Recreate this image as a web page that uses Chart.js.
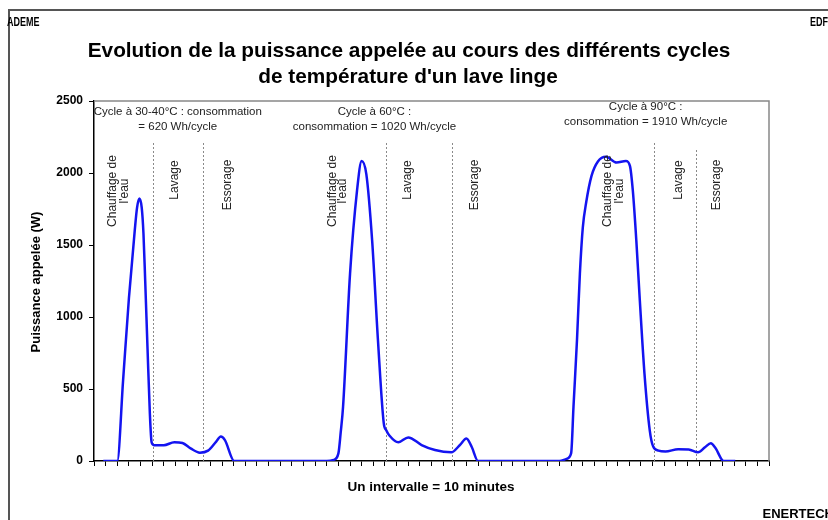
<!DOCTYPE html>
<html>
<head>
<meta charset="utf-8">
<script src="https://cdn.jsdelivr.net/npm/chart.js@4.4.1/dist/chart.umd.min.js"></script>
<style>
html,body{margin:0;padding:0;background:#fff;}
</style>
</head>
<body>
<canvas id="myChart" width="828" height="520"></canvas>
<script>
// Temps en intervalles (1 intervalle = 10 minutes)
const intervalles = [
  0.8, 2.0, 2.5, 3.0, 3.5, 3.7, 3.9, 4.1, 4.25, 4.4, 4.6, 4.8, 4.95, 5.15, 6.0, 6.9, 7.6, 8.3, 9.1, 9.8, 10.5, 10.9, 11.25, 12.05,
  20.0, 20.6, 21.0, 21.2, 21.4, 22.0, 22.6, 23.0, 23.4, 23.9, 24.4, 24.9, 25.1, 25.4, 26.15, 27.0, 28.15, 29.3, 30.7, 31.44, 32.0, 32.45, 33.0,
  40.0, 40.6, 41.0, 41.2, 41.5, 41.75, 42.0, 42.3, 42.75, 43.3, 44.0, 44.9, 45.7, 46.05, 46.3, 46.6, 46.9, 47.3, 47.75, 48.05, 48.5, 49.1, 50.2, 51.1, 51.9, 52.5, 53.0, 53.4, 54.1, 55.1
];
// Puissance appelée (W)
const puissance = [
  0, 0, 560, 1130, 1600, 1760, 1823, 1760, 1580, 1250, 780, 330, 130, 110, 110, 130, 125, 88, 58, 72, 135, 170, 145, 0,
  0, 8, 53, 200, 376, 1300, 1877, 2084, 1992, 1530, 838, 261, 215, 175, 130, 164, 111, 76, 60, 111, 157, 99, 0,
  0, 15, 55, 376, 838, 1300, 1620, 1800, 1980, 2080, 2112, 2073, 2084, 2050, 1877, 1530, 1115, 607, 215, 100, 72, 66, 82, 80, 60, 95, 123, 90, 0, 0
];
// Limites des phases (chauffage / lavage / essorage)
const separations = [5.1, 9.4, 25.1, 30.8, 48.1, 51.7];
const graduationsY = [0, 500, 1000, 1500, 2000, 2500];
const cycles = [
  ['Cycle à 30-40°C : consommation', '= 620 Wh/cycle'],
  ['Cycle à 60°C :', 'consommation = 1020 Wh/cycle'],
  ['Cycle à 90°C :', 'consommation = 1910 Wh/cycle']
];
const phases = ['Chauffage de', "l'eau", 'Lavage', 'Essorage'];

const ctx = document.getElementById('myChart');

const decor = {
  id: 'decor',
  beforeDraw(chart) {
    const c = chart.ctx;
    c.save();
    c.fillStyle = '#fff';
    c.fillRect(0, 0, chart.width, chart.height);
    // cadre extérieur
    c.strokeStyle = '#555';
    c.lineWidth = 2;
    c.beginPath();
    c.moveTo(9, 530); c.lineTo(9, 10); c.lineTo(840, 10);
    c.stroke();
    c.restore();
  },
  beforeDatasetsDraw(chart) {
    const c = chart.ctx, a = chart.chartArea, x = chart.scales.x;
    c.save();
    // bord haut et droit de la zone de tracé
    c.strokeStyle = '#888';
    c.lineWidth = 1.5;
    c.beginPath();
    c.moveTo(a.left, a.top); c.lineTo(a.right, a.top); c.lineTo(a.right, a.bottom);
    c.stroke();
    // séparateurs de phases
    c.strokeStyle = '#8a8a8a';
    c.lineWidth = 1;
    c.setLineDash([2, 2]);
    separations.forEach((s, i) => {
      const px = Math.round(x.getPixelForValue(s)) + 0.5;
      c.beginPath();
      c.moveTo(px, i === 5 ? 150 : 143);
      c.lineTo(px, a.bottom);
      c.stroke();
    });
    c.restore();
  },
  afterDraw(chart) {
    const c = chart.ctx, x = chart.scales.x;
    c.save();
    c.fillStyle = '#000';
    c.textBaseline = 'middle';
    // en-têtes (police étroite simulée)
    c.font = 'bold 12.5px "Liberation Sans", Arial';
    c.save();
    c.scale(0.72, 1);
    c.textAlign = 'left';
    c.fillText('ADEME', 7 / 0.72, 23);
    c.textAlign = 'right';
    c.fillText('EDF', 828 / 0.72, 23);
    c.restore();
    c.textAlign = 'right';
    c.font = 'bold 13px "Liberation Sans", Arial';
    c.fillText('ENERTECH', 834, 514);
    // titre
    c.textAlign = 'center';
    c.font = 'bold 20.8px "Liberation Sans", Arial';
    c.fillText('Evolution de la puissance appelée au cours des différents cycles', 409, 51);
    c.fillText("de température d'un lave linge", 408, 77);
    // titres des axes
    c.font = 'bold 13.5px "Liberation Sans", Arial';
    c.fillText('Un intervalle = 10 minutes', 431, 487);
    c.save();
    c.translate(36, 282);
    c.rotate(-Math.PI / 2);
    c.font = 'bold 13px "Liberation Sans", Arial';
    c.fillText('Puissance appelée (W)', 0, 0);
    c.restore();
    // annotations des cycles
    c.fillStyle = '#222';
    c.font = '11.5px "Liberation Sans", Arial';
    const centres = [[7.2, 112], [24.1, 112], [47.4, 107]];
    cycles.forEach((lignes, i) => {
      const px = x.getPixelForValue(centres[i][0]);
      c.fillText(lignes[0], px, centres[i][1]);
      c.fillText(lignes[1], px, centres[i][1] + 14.5);
    });
    // phases (texte vertical)
    c.font = '12px "Liberation Sans", Arial';
    const pos = [
      [1.63, 2.66, 6.96, 11.5],
      [20.5, 21.4, 26.97, 32.7],
      [44.1, 45.2, 50.2, 53.5]
    ];
    const centresY = [191, 191, 180, 185];
    pos.forEach(p => {
      p.forEach((v, j) => {
        c.save();
        c.translate(x.getPixelForValue(v), centresY[j]);
        c.rotate(-Math.PI / 2);
        c.fillText(phases[j], 0, 0);
        c.restore();
      });
    });
    c.restore();
  }
};

new Chart(ctx, {
  type: 'line',
  data: {
    datasets: [{
      label: 'Puissance appelée',
      data: intervalles.map((t, i) => ({x: t, y: puissance[i]})),
      borderColor: '#1414f0',
      borderWidth: 2.5,
      pointRadius: 0,
      fill: false,
      cubicInterpolationMode: 'monotone'
    }]
  },
  options: {
    responsive: false,
    animation: false,
    devicePixelRatio: 1,
    layout: {padding: {top: 101, right: 59, left: 0, bottom: 0}},
    plugins: {legend: {display: false}, tooltip: {enabled: false}},
    scales: {
      x: {
        type: 'linear',
        min: 0,
        max: 58,
        afterFit: s => { s.height = 59; },
        ticks: {display: false, stepSize: 1, maxTicksLimit: 100},
        grid: {drawOnChartArea: false, drawTicks: true, tickLength: 5, color: '#000'},
        border: {color: '#000', width: 1.5}
      },
      y: {
        min: 0,
        max: 2500,
        afterFit: s => { s.width = 94; },
        afterBuildTicks: s => { s.ticks = graduationsY.map(v => ({value: v})); },
        ticks: {
          color: '#000', padding: 6,
          font: {family: '"Liberation Sans", Arial', size: 12, weight: 'bold'},
          callback: v => String(v)
        },
        grid: {drawOnChartArea: false, drawTicks: true, tickLength: 5, color: '#000'},
        border: {color: '#000', width: 1.5}
      }
    }
  },
  plugins: [decor]
});
</script>
</body>
</html>
